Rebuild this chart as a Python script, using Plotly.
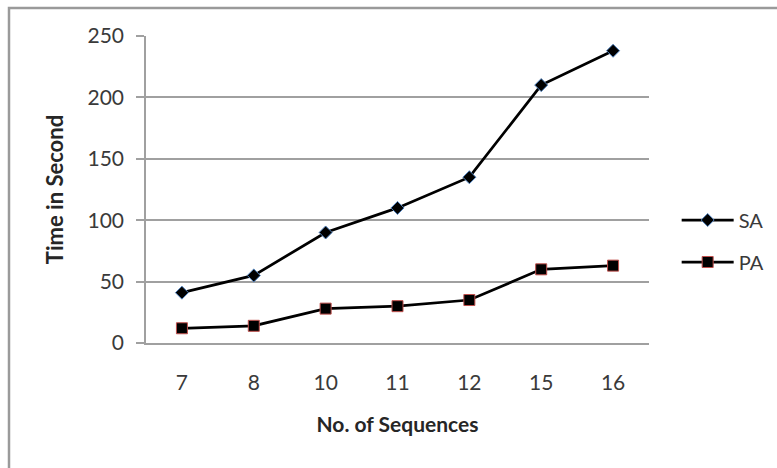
import plotly.graph_objects as go

# Run-time comparison by number of sequences
sequences = ["7", "8", "10", "11", "12", "15", "16"]
sa_time = [41, 55, 90, 110, 135, 210, 238]
pa_time = [12, 14, 28, 30, 35, 60, 63]

y_ticks = [0, 50, 100, 150, 200, 250]

FONT = "Lato"
TEXT = "#3a3a3a"
GRID = "#a0a0a0"

fig = go.Figure()

fig.add_trace(go.Scatter(
    x=sequences, y=sa_time, name="SA", mode="lines+markers",
    line=dict(color="black", width=2.75),
    marker=dict(symbol="diamond", size=10, color="black",
                line=dict(color="#4f81bd", width=1)),
    legend="legend",
))
fig.add_trace(go.Scatter(
    x=sequences, y=pa_time, name="PA", mode="lines+markers",
    line=dict(color="black", width=2.75),
    marker=dict(symbol="square", size=11, color="black",
                line=dict(color="#c0504d", width=1)),
    legend="legend2",
))

W, H = 777, 468
L, R, T, B = 146, 128, 36, 125

legend_common = dict(xanchor="left", yanchor="middle", itemwidth=52,
                     bgcolor="rgba(0,0,0,0)", font=dict(size=20, color=TEXT))

fig.update_layout(
    width=W, height=H,
    margin=dict(l=L, r=R, t=T, b=B, autoexpand=False),
    paper_bgcolor="white", plot_bgcolor="white",
    font=dict(family=FONT, color=TEXT, size=21),
    showlegend=True,
    legend=dict(x=1.055, y=(343 - 220) / 307, **legend_common),
    legend2=dict(x=1.055, y=(343 - 262) / 307, **legend_common),
    xaxis=dict(
        type="category", range=[-0.5, len(sequences) - 0.5],
        showgrid=False, showline=True, linecolor=GRID, linewidth=1.5,
        ticks="", ticklabelstandoff=20,
        tickfont=dict(size=21, color=TEXT),
        title=dict(text="<b>No. of Sequences</b>", standoff=24,
                   font=dict(size=21, color="#262626")),
        zeroline=False,
    ),
    yaxis=dict(
        range=[0, 250], tickvals=y_ticks,
        showgrid=True, gridcolor=GRID, gridwidth=1.5,
        showline=True, linecolor=GRID, linewidth=1.5,
        ticks="outside", ticklen=8, tickcolor=GRID, tickwidth=1.5,
        ticklabelstandoff=8,
        tickfont=dict(size=21, color=TEXT),
        title=dict(text="<b>Time in Second</b>", standoff=18,
                   font=dict(size=22, color="#262626")),
        zeroline=False,
    ),
    shapes=[dict(
        type="rect", xref="paper", yref="paper",
        x0=(9 - L) / (W - L - R), x1=2.0,
        y0=-2.0, y1=(343 - 8) / 307,
        line=dict(color="#9a9a9a", width=2.5), layer="below",
    )],
)

fig.write_html("out.html")
